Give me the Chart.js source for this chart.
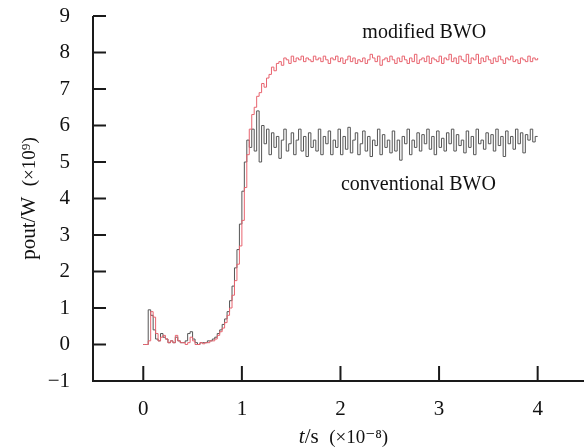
<!DOCTYPE html>
<html>
<head>
<meta charset="utf-8">
<script src="https://cdn.jsdelivr.net/npm/chart.js@4"></script>
<style>
  html, body { margin: 0; padding: 0; background: #fff; }
  #wrap { width: 584px; height: 447px; }
</style>
</head>
<body>
<div id="wrap"><canvas id="c" width="584" height="447"></canvas></div>
<script>
// sampling step of both traces (units of 1e-8 s), first sample at t = 0
const tStep = 0.025;

// modified BWO (red), one row = 0.25 time units
const modifiedBWO = [
  0, 0, 0.1, 0.9, 0.75, 0.3, 0.1, 0.2, 0.25, 0.15,
  0.05, 0.1, 0.05, 0.25, 0.1, 0.05, 0.05, 0, 0.05, 0.2,
  0.1, 0, 0, 0.05, 0.02, 0.05, 0.05, 0.1, 0.1, 0.15,
  0.25, 0.35, 0.45, 0.6, 0.8, 1.0, 1.35, 1.75, 2.2, 2.7,
  3.4, 4.3, 5.2, 5.9, 6.3, 6.5, 6.8, 6.9, 7.15, 7.05,
  7.3, 7.4, 7.6, 7.5, 7.7, 7.75, 7.65, 7.85, 7.8, 7.7,
  7.9, 7.75, 7.85, 7.8, 7.9, 7.75, 7.85, 7.8, 7.75, 7.9,
  7.8, 7.85, 7.75, 7.9, 7.8, 7.7, 7.85, 7.8, 7.9, 7.75,
  7.85, 7.7, 7.8, 7.9, 7.75, 7.85, 7.7, 7.8, 7.75, 7.85,
  7.7, 7.8, 7.95, 7.85, 7.75, 7.9, 7.65, 7.8, 7.85, 7.75,
  7.9, 7.8, 7.7, 7.85, 7.75, 7.9, 7.8, 7.7, 7.85, 7.75,
  7.95, 7.7, 7.8, 7.85, 7.75, 7.9, 7.7, 7.85, 7.8, 7.75,
  7.9, 7.7, 7.85, 7.8, 7.95, 7.75, 7.85, 7.7, 7.9, 7.8,
  7.75, 7.95, 7.7, 7.85, 7.8, 7.95, 7.7, 7.85, 7.75, 7.9,
  7.8, 7.7, 7.85, 7.75, 7.9, 7.8, 7.7, 7.85, 7.8, 7.9,
  7.75, 7.8, 7.7, 7.85, 7.8, 7.75, 7.9, 7.75, 7.85, 7.8,
  7.85
];

// conventional BWO (grey)
const conventionalBWO = [
  0, 0, 0.95, 0.8, 0.4, 0.15, 0.1, 0.3, 0.2, 0.15,
  0.05, 0.1, 0.05, 0.2, 0.1, 0.05, 0.05, 0.1, 0.3, 0.35,
  0.15, 0.05, 0, 0.05, 0.05, 0.05, 0.1, 0.1, 0.15, 0.2,
  0.3, 0.4, 0.55, 0.7, 0.9, 1.2, 1.6, 2.1, 2.6, 3.3,
  4.2, 5.0, 5.6, 5.4, 5.9, 5.3, 6.4, 5.0, 6.0, 5.5,
  5.9, 5.2, 5.8, 5.4, 5.7, 5.1, 5.6, 5.9, 5.3, 5.5,
  5.8, 5.2, 5.6, 5.9, 5.3, 5.7, 5.15, 5.8, 5.4, 5.6,
  5.3, 5.9, 5.2, 5.7, 5.5, 5.85, 5.2, 5.6, 5.4, 5.9,
  5.2, 5.7, 5.35, 5.95, 5.25, 5.6, 5.8, 5.2, 5.5, 5.85,
  5.3, 5.7, 5.15, 5.6, 5.45, 5.9, 5.2, 5.75, 5.4, 5.6,
  5.25, 5.85, 5.3, 5.6, 5.05, 5.7, 5.5, 5.9, 5.2, 5.6,
  5.4, 5.8, 5.3, 5.75, 5.5, 5.9, 5.35, 5.7, 5.2, 5.85,
  5.4, 5.65, 5.3, 5.8, 5.5, 5.9, 5.3, 5.75, 5.45, 5.6,
  5.25, 5.85, 5.4, 5.7, 5.2, 5.9, 5.5, 5.6, 5.35, 5.8,
  5.5, 5.75, 5.3, 5.9, 5.45, 5.7, 5.15, 5.85, 5.5, 5.7,
  5.35, 5.9, 5.5, 5.8, 5.25, 5.75, 5.6, 5.9, 5.55, 5.7,
  5.7
];

const xTicks = [0, 1, 2, 3, 4];
const yTicks = [-1, 0, 1, 2, 3, 4, 5, 6, 7, 8, 9];

// labels inside the plot, placed in data units
const notes = [
  { text: 'modified BWO', t: 2.85, p: 8.55 },
  { text: 'conventional BWO', t: 2.79, p: 4.38 }
];

const SERIF = '"Liberation Serif", "DejaVu Serif", serif';
const RED = '#e8646f';
const GREY = '#555555';

const toPts = arr => arr.map((v, i) => ({ x: i * tStep, y: v }));

// axes drawn like the paper figure: L-shaped frame, ticks pointing inward
const frame = {
  id: 'frame',
  afterDatasetsDraw(chart) {
    const { ctx, scales: { x, y } } = chart;
    ctx.save();
    ctx.strokeStyle = '#1a1a1a';
    ctx.lineWidth = 2;
    ctx.beginPath();
    const x0 = x.left, y0 = y.bottom;
    ctx.moveTo(x0, y.getPixelForValue(9));
    ctx.lineTo(x0, y0);
    ctx.lineTo(x.right, y0);
    yTicks.forEach(v => {
      if (v < 0) return;
      const py = y.getPixelForValue(v);
      ctx.moveTo(x0, py); ctx.lineTo(x0 + 13, py);
    });
    xTicks.forEach(v => {
      const px = x.getPixelForValue(v);
      ctx.moveTo(px, y0); ctx.lineTo(px, y0 - 15);
    });
    ctx.stroke();

    // notes
    ctx.fillStyle = '#111';
    ctx.font = '20px ' + SERIF;
    ctx.textAlign = 'center';
    ctx.textBaseline = 'middle';
    notes.forEach(n => ctx.fillText(n.text, x.getPixelForValue(n.t), y.getPixelForValue(n.p)));

    // x title: italic t, then "/s  (×10⁻⁸)"
    const parts = [
      { s: 't', f: 'italic 21px ' + SERIF },
      { s: '/s  ', f: '21px ' + SERIF },
      { s: '(×10⁻⁸)', f: '19px ' + SERIF }
    ];
    let w = 0;
    parts.forEach(p => { ctx.font = p.f; w += ctx.measureText(p.s).width; });
    let cx = (x.left + x.right) / 2 + 5 - w / 2;
    ctx.textAlign = 'left';
    ctx.textBaseline = 'alphabetic';
    parts.forEach(p => { ctx.font = p.f; ctx.fillText(p.s, cx, 443); cx += ctx.measureText(p.s).width; });

    // y title, rotated
    const yparts = [
      { s: 'pout/W  ', f: '21px ' + SERIF },
      { s: '(×10⁹)', f: '19px ' + SERIF }
    ];
    w = 0;
    yparts.forEach(p => { ctx.font = p.f; w += ctx.measureText(p.s).width; });
    ctx.translate(35, (y.top + y.bottom) / 2);
    ctx.rotate(-Math.PI / 2);
    cx = -w / 2;
    yparts.forEach(p => { ctx.font = p.f; ctx.fillText(p.s, cx, 0); cx += ctx.measureText(p.s).width; });
    ctx.restore();
  }
};

new Chart(document.getElementById('c'), {
  type: 'line',
  data: {
    datasets: [
      { label: 'modified BWO', data: toPts(modifiedBWO), borderColor: RED, borderWidth: 1, stepped: true, pointRadius: 0 },
      { label: 'conventional BWO', data: toPts(conventionalBWO), borderColor: GREY, borderWidth: 1, stepped: true, pointRadius: 0 }
    ]
  },
  options: {
    responsive: false,
    animation: false,
    layout: { padding: { top: 16, left: 0, right: 0, bottom: 0 } },
    plugins: { legend: { display: false }, tooltip: { enabled: false } },
    scales: {
      x: {
        type: 'linear', min: -0.51, max: 4.47,
        afterBuildTicks: s => { s.ticks = xTicks.map(v => ({ value: v })); },
        afterFit: s => { s.height = 66; s.paddingLeft = 0; s.paddingRight = 0; },
        grid: { display: false }, border: { display: false },
        ticks: { color: '#111', font: { family: SERIF, size: 21 }, padding: 8, maxRotation: 0 }
      },
      y: {
        min: -1, max: 9,
        afterBuildTicks: s => { s.ticks = yTicks.map(v => ({ value: v })); },
        afterFit: s => { s.width = 93; s.paddingTop = 0; s.paddingBottom = 0; },
        grid: { display: false }, border: { display: false },
        ticks: {
          color: '#111', font: { family: SERIF, size: 21 }, padding: 15,
          callback: v => v < 0 ? '\u2212' + Math.abs(v) : String(v)
        }
      }
    }
  },
  plugins: [frame]
});
</script>
</body>
</html>
